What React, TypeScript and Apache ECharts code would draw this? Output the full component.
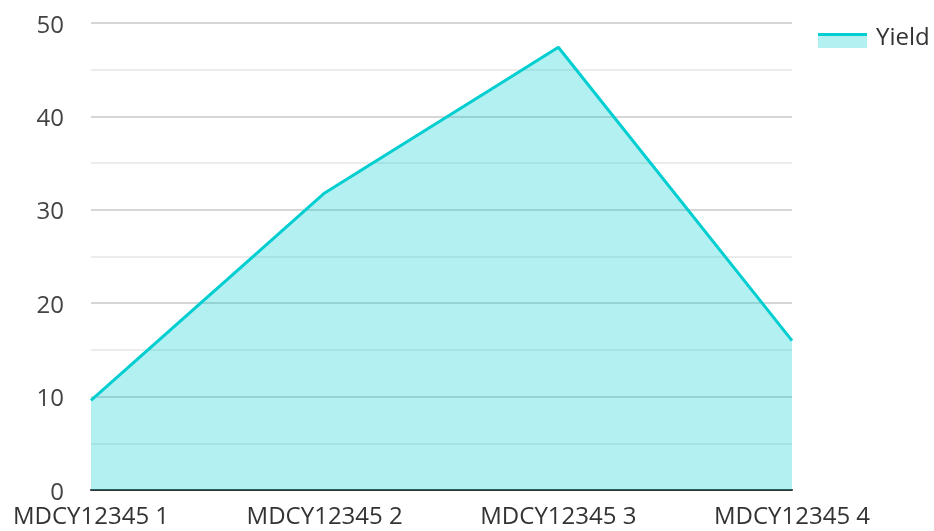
import React, { useEffect, useRef } from "react";
import * as echarts from "echarts";

const categories = ["MDCY12345 1", "MDCY12345 2", "MDCY12345 3", "MDCY12345 4"];
const yieldValues = [9.6, 31.8, 47.4, 16.0];
const seriesName = "Yield";

export default function App() {
  const ref = useRef<HTMLDivElement>(null);
  useEffect(() => {
    if (!ref.current) return;
    const chart = echarts.init(ref.current, undefined, { renderer: "svg" });
    chart.setOption({
      animation: false,
      textStyle: { fontFamily: "Open Sans" },
      grid: { left: 91, right: 142, top: 23, bottom: 41, containLabel: false },
      legend: {
        left: 812,
        top: 18,
        itemWidth: 49,
        itemHeight: 14,
        itemGap: 10,
        textStyle: { fontSize: 24, color: "#333", fontFamily: "Open Sans", padding: [0, 0, 0, 5] },
        data: [{ name: seriesName, icon: "rect", itemStyle: { color: "rgba(0,0,0,0)", borderWidth: 0 } }],
      },
      graphic: [
        { type: "rect", shape: { x: 818, y: 33, width: 49, height: 15 }, style: { fill: "rgba(0,206,209,0.3)" }, z: 100 },
        { type: "rect", shape: { x: 818, y: 33, width: 49, height: 3 }, style: { fill: "#00CED1" }, z: 101 },
      ],
      xAxis: {
        type: "category",
        data: categories,
        boundaryGap: false,
        axisLine: { lineStyle: { color: "#333", width: 2 } },
        axisTick: { show: false },
        axisLabel: { fontSize: 24, color: "#333", margin: 12, fontFamily: "Open Sans" },
        splitLine: { show: false },
      },
      yAxis: {
        type: "value",
        min: 0,
        max: 50,
        interval: 10,
        axisLine: { show: false },
        axisTick: { show: false },
        axisLabel: { fontSize: 24, color: "#444", margin: 27, fontFamily: "Open Sans" },
        splitLine: { lineStyle: { color: "#c8c8c8", width: 1.5 } },
        minorTick: { show: false, splitNumber: 2 },
        minorSplitLine: { show: true, lineStyle: { color: "#e6e6e6", width: 1.5 } },
      },
      series: [
        {
          name: seriesName,
          type: "line",
          data: yieldValues,
          showSymbol: false,
          symbol: "none",
          lineStyle: { color: "#00CED1", width: 3 },
          itemStyle: { color: "#00CED1" },
          areaStyle: { color: "#00CED1", opacity: 0.3 },
        },
      ],
    });
    return () => chart.dispose();
  }, []);
  return <div ref={ref} style={{ width: 934, height: 531, position: "fixed", left: 0, top: 0 }} />;
}
